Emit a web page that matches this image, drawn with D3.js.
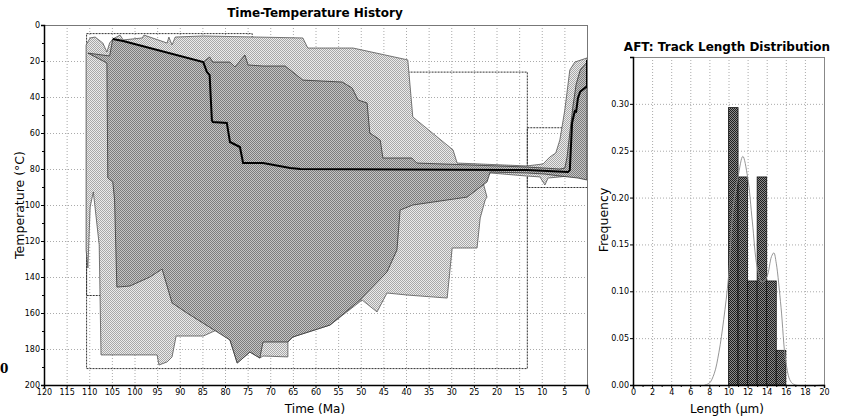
<!DOCTYPE html>
<html>
<head>
<meta charset="utf-8">
<script src="https://cdn.jsdelivr.net/npm/d3@7"></script>
<style>
  body { margin: 0; background: #fff; }
  text { font-family: "DejaVu Sans", sans-serif; fill: #000; }
</style>
</head>
<body>
<svg id="chart" width="841" height="419"></svg>
<script>
// ---- data: time-temperature history (t in Ma, T in deg C) ----
var timeTicks = d3.range(120, -1, -5);
var tempTicks = d3.range(0, 201, 20);

// acceptable-fit envelope (outer)
var acceptable = [
  [110.7,11.1],[109.8,7.2],[108.7,6.7],[107.0,10],[106.1,15],[105.5,10],[104.8,7.8],
  [103.2,5.6],[102.5,8.3],[98.3,7.2],[97.9,5.6],[92.8,10],[92.4,6.7],[91.7,11.1],
  [91.0,6.7],[84.8,6.1],[62.8,7.2],[61.7,12.8],[51.7,12.8],[39.6,19.4],[38.5,51.1],
  [29.6,69.4],[28.7,76.7],[13.3,78.3],[9.7,77.2],[8.2,73.3],[6.9,71.1],[6.0,63.9],
  [4.9,47.2],[3.8,25],[2.7,20.6],[0,18.3],
  [0,83.3],[2.0,83.3],[6.0,84.4],[8.6,85],[9.3,88.9],[10.4,84.4],[13.3,83.9],
  [21.4,82.2],[23.0,87.2],[22.1,95.6],[22.5,97.2],[23.6,107.2],[24.3,123.9],
  [29.8,123.9],[30.9,151.7],[39.8,150],[44.2,148.9],[46.4,159.4],[49.7,152.8],
  [56.8,166.7],[65.0,173.3],[66.1,176.1],[66.1,184.4],[71.6,183.9],[72.3,185],
  [74.5,181.7],[77.3,187.8],[78.9,175],[81.8,169.4],[84.8,172.8],[90.8,172.8],
  [91.7,184.4],[92.8,187.2],[94.6,188.9],[95.0,183.3],[107.4,183.3],[107.8,122.2],
  [108.7,101.7],[109.1,92.8],[109.8,101.1],[110.3,135],[110.7,125]
];

// good-fit envelope (inner)
var good = [
  [110.3,15.6],[105.5,17.2],[104.8,7.8],[102.5,8.9],[84.8,20.6],[83.4,17.8],
  [82.7,20.6],[78.9,20.6],[77.8,23.3],[75.6,16.7],[74.9,22.2],[71.6,22.8],
  [66.7,22.8],[62.8,30.6],[54.1,31.7],[51.9,35],[50.6,41.7],[48.6,43.3],[48.0,60],
  [45.7,63.9],[45.1,73.9],[38.7,73.9],[37.6,76.7],[13.3,78.9],[6.0,80],[4.9,79.5],
  [4.4,73.3],[3.8,60],[3.1,45],[2.4,33],[1.5,25],[0,20.6],
  [0,86.1],[2.0,85],[6.0,83.9],[9.3,82.8],[13.3,82.2],[21.4,81.7],[22.1,87.2],
  [26.5,95.6],[38.5,100],[41.3,102.8],[42.0,125],[44.2,137.2],[50.2,152.8],
  [56.8,166.7],[65.0,173.3],[66.1,176.1],[71.6,176.1],[72.3,185],[74.5,181.7],
  [77.3,187.8],[78.9,175],[88.4,160],[91.7,154.4],[93.9,135.6],[96.6,140],
  [101.0,145],[103.9,145.6],[104.4,97.2],[104.8,87.2],[105.9,85],[106.1,21.1]
];

// best-fit path
var bestFit = [
  [104.8,7.8],[102.5,8.9],[84.8,20.6],[84.0,26.1],[83.4,27.8],[82.9,52.8],
  [82.7,53.9],[79.6,54.4],[78.9,65],[76.7,67.8],[76.0,76.7],[71.6,76.7],
  [65.6,79.4],[63.4,80],[13.3,80.6],[4.2,81.7],[3.8,80.6],[3.3,54.4],[2.7,47.8],
  [2.4,48.2],[2.0,40.6],[1.5,37],[0.2,34.4],[0,34.4],[0,19.4]
];

// constraint boxes: [t old, t young, T low, T high]
var boxes = [
  [110.7, 74.1, 4.5, 150],
  [110.7, 13.3, 25.9, 190.6],
  [13.3, 0, 56.8, 90]
];

// ---- data: AFT track length distribution ----
var lengthTicks = d3.range(0, 21, 2);
var freqTicks = d3.range(0, 0.31, 0.05);
var binStart = [10, 11, 12, 13, 14, 15];
var binFreq = [0.296, 0.222, 0.111, 0.222, 0.111, 0.037];
var predicted = [
  [7.5,0],[8,0.002],[8.5,0.012],[9,0.035],[9.5,0.07],[10,0.115],[10.5,0.19],
  [11,0.222],[11.5,0.244],[12,0.222],[12.5,0.174],[13,0.126],[13.5,0.11],
  [14,0.115],[14.5,0.137],[14.75,0.141],[15,0.13],[15.5,0.083],[16,0.025],
  [16.5,0.004],[17,0],[20,0]
];

var svg = d3.select("#chart");

// checker patterns
var defs = svg.append("defs");
function checker(id, a, b) {
  var p = defs.append("pattern")
      .attr("id", id)
      .attr("patternUnits", "userSpaceOnUse")
      .attr("width", 2)
      .attr("height", 2);
  p.append("rect").attr("width", 2).attr("height", 2).attr("fill", b);
  p.append("rect").attr("width", 1).attr("height", 1).attr("fill", a);
  p.append("rect").attr("x", 1).attr("y", 1).attr("width", 1).attr("height", 1).attr("fill", a);
}
checker("light", "#a8a8a8", "#ebebeb");
checker("dark", "#7c7c7c", "#c4c4c4");
checker("bars", "#1e1e1e", "#8c8c8c");

// ================= Time-Temperature History =================
var x = d3.scaleLinear().domain([120, 0]).range([44, 587]);
var y = d3.scaleLinear().domain([0, 200]).range([25, 385]);

var g = svg.append("g");

// grid
g.append("g").selectAll("line").data(timeTicks.filter(function(d) { return d > 0 && d < 120; }))
  .join("line")
    .attr("x1", function(d) { return x(d) + 0.5; })
    .attr("x2", function(d) { return x(d) + 0.5; })
    .attr("y1", y(0)).attr("y2", y(200))
    .attr("stroke", "#aaa").attr("stroke-dasharray", "1,2");
g.append("g").selectAll("line").data(tempTicks.filter(function(d) { return d > 0 && d < 200; }))
  .join("line")
    .attr("x1", x(120)).attr("x2", x(0))
    .attr("y1", function(d) { return y(d) + 0.5; })
    .attr("y2", function(d) { return y(d) + 0.5; })
    .attr("stroke", "#aaa").attr("stroke-dasharray", "1,2");

// constraint boxes
g.append("g").selectAll("rect").data(boxes)
  .join("rect")
    .attr("x", function(d) { return x(d[0]) + 0.5; })
    .attr("y", function(d) { return y(d[2]) + 0.5; })
    .attr("width", function(d) { return x(d[1]) - x(d[0]); })
    .attr("height", function(d) { return y(d[3]) - y(d[2]); })
    .attr("fill", "none")
    .attr("stroke", "#333")
    .attr("stroke-dasharray", "2,1");

var area = d3.line().x(function(d) { return x(d[0]); }).y(function(d) { return y(d[1]); });

g.append("path").datum(acceptable)
  .attr("d", function(d) { return area(d) + "Z"; })
  .attr("fill", "url(#light)")
  .attr("stroke", "#555").attr("stroke-width", 0.8);

g.append("path").datum(good)
  .attr("d", function(d) { return area(d) + "Z"; })
  .attr("fill", "url(#dark)")
  .attr("stroke", "#333").attr("stroke-width", 0.8);

g.append("path").datum(bestFit)
  .attr("d", area)
  .attr("fill", "none")
  .attr("stroke", "#000").attr("stroke-width", 2);

// frame
g.append("rect")
  .attr("x", x(120) + 0.5).attr("y", y(0) + 0.5)
  .attr("width", x(0) - x(120)).attr("height", y(200) - y(0))
  .attr("fill", "none").attr("stroke", "#777");

// axes
var xAxis = d3.axisBottom(x).tickValues(timeTicks).tickSize(3).tickPadding(1);
var gx = g.append("g").attr("transform", "translate(0," + y(200) + ")").call(xAxis);
var yAxis = d3.axisLeft(y).tickValues(tempTicks).tickSize(3).tickPadding(1);
var gy = g.append("g").attr("transform", "translate(" + x(120) + ",0)").call(yAxis);
// minor ticks
g.append("g").selectAll("line").data(d3.range(10, 200, 20))
  .join("line")
    .attr("x1", x(120) - 2).attr("x2", x(120))
    .attr("y1", function(d) { return y(d) + 0.5; })
    .attr("y2", function(d) { return y(d) + 0.5; })
    .attr("stroke", "#000");
[gx, gy].forEach(function(a) {
  a.selectAll("text").style("font-size", "8px").style("font-family", "DejaVu Sans");
  a.select(".domain").attr("stroke", "#000").attr("stroke-width", 1.5);
});

svg.append("text")
  .attr("x", 315).attr("y", 17)
  .attr("text-anchor", "middle")
  .style("font-size", "12px").style("font-weight", "bold")
  .text("Time-Temperature History");
svg.append("text")
  .attr("x", 315).attr("y", 413)
  .attr("text-anchor", "middle")
  .style("font-size", "12px")
  .text("Time (Ma)");
svg.append("text")
  .attr("transform", "translate(24,205) rotate(-90)")
  .attr("text-anchor", "middle")
  .style("font-size", "12.5px")
  .text("Temperature (°C)");
svg.append("text")
  .attr("x", 0).attr("y", 373)
  .style("font-size", "12px").style("font-weight", "bold")
  .style("font-family", "DejaVu Serif")
  .text("0");

// ================= AFT: Track Length Distribution =================
var lx = d3.scaleLinear().domain([0, 20]).range([633, 824]);
var ly = d3.scaleLinear().domain([0, 0.35]).range([385, 57]);

var h = svg.append("g");

h.append("g").selectAll("line").data(lengthTicks.filter(function(d) { return d > 0 && d < 20; }))
  .join("line")
    .attr("x1", function(d) { return lx(d) + 0.5; })
    .attr("x2", function(d) { return lx(d) + 0.5; })
    .attr("y1", ly(0)).attr("y2", ly(0.35))
    .attr("stroke", "#aaa").attr("stroke-dasharray", "1,2");
h.append("g").selectAll("line").data(freqTicks.filter(function(d) { return d > 0.001; }))
  .join("line")
    .attr("x1", lx(0)).attr("x2", lx(20))
    .attr("y1", function(d) { return ly(d) + 0.5; })
    .attr("y2", function(d) { return ly(d) + 0.5; })
    .attr("stroke", "#aaa").attr("stroke-dasharray", "1,2");

h.append("g").selectAll("rect").data(binStart)
  .join("rect")
    .attr("x", function(d) { return lx(d); })
    .attr("y", function(d, i) { return ly(binFreq[i]); })
    .attr("width", function(d) { return lx(d + 1) - lx(d); })
    .attr("height", function(d, i) { return ly(0) - ly(binFreq[i]); })
    .attr("fill", "url(#bars)")
    .attr("stroke", "#111").attr("stroke-width", 0.8);

h.append("path").datum(predicted)
  .attr("d", d3.line()
    .x(function(d) { return lx(d[0]); })
    .y(function(d) { return ly(d[1]); })
    .curve(d3.curveCatmullRom))
  .attr("fill", "none")
  .attr("stroke", "#8a8a8a").attr("stroke-width", 0.9);

h.append("rect")
  .attr("x", lx(0) + 0.5).attr("y", ly(0.35) + 0.5)
  .attr("width", lx(20) - lx(0)).attr("height", ly(0) - ly(0.35))
  .attr("fill", "none").attr("stroke", "#888");

var hx = h.append("g").attr("transform", "translate(0," + ly(0) + ")")
  .call(d3.axisBottom(lx).tickValues(lengthTicks).tickSize(3).tickPadding(1));
var hy = h.append("g").attr("transform", "translate(" + lx(0) + ",0)")
  .call(d3.axisLeft(ly).tickValues(freqTicks).tickFormat(d3.format(".2f")).tickSize(3).tickPadding(1));
h.append("g").selectAll("line").data(d3.range(1, 20, 2))
  .join("line")
    .attr("x1", function(d) { return lx(d) + 0.5; })
    .attr("x2", function(d) { return lx(d) + 0.5; })
    .attr("y1", ly(0)).attr("y2", ly(0) + 2)
    .attr("stroke", "#000");
[hx, hy].forEach(function(a) {
  a.selectAll("text").style("font-size", "8px").style("font-family", "DejaVu Sans");
  a.select(".domain").attr("stroke", "#000").attr("stroke-width", 1.5);
});

svg.append("text")
  .attr("x", 727).attr("y", 51)
  .attr("text-anchor", "middle")
  .style("font-size", "12px").style("font-weight", "bold")
  .text("AFT: Track Length Distribution");
svg.append("text")
  .attr("x", 727).attr("y", 413)
  .attr("text-anchor", "middle")
  .style("font-size", "12px")
  .text("Length (µm)");
svg.append("text")
  .attr("transform", "translate(608,220) rotate(-90)")
  .attr("text-anchor", "middle")
  .style("font-size", "12.5px")
  .text("Frequency");
</script>
</body>
</html>
